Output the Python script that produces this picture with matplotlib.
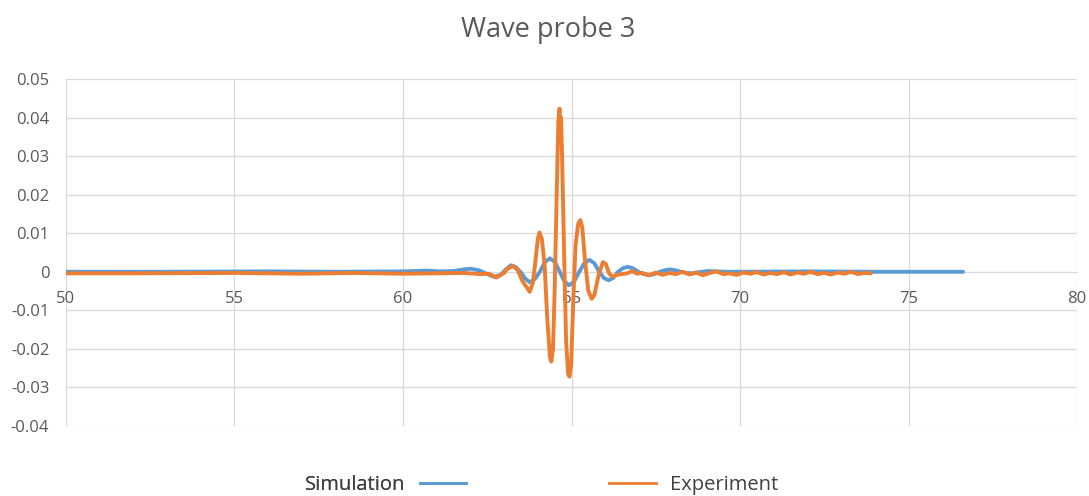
import matplotlib
matplotlib.use("Agg")
import matplotlib.pyplot as plt
from matplotlib.lines import Line2D

plt.rcParams['font.family'] = ['Open Sans', 'DejaVu Sans']

title = "Wave probe 3"
series_names = ["Simulation", "Experiment"]
x_ticks = [50, 55, 60, 65, 70, 75, 80]
y_ticks = [-0.04, -0.03, -0.02, -0.01, 0, 0.01, 0.02, 0.03, 0.04, 0.05]
y_tick_labels = ["-0.04", "-0.03", "-0.02", "-0.01", "0", "0.01", "0.02", "0.03", "0.04", "0.05"]

# Simulated surface elevation
sim_t = [50.0, 53.0, 56.0, 58.0, 60.0, 60.4, 60.7, 61.1, 61.5, 61.8, 62.0, 62.25,
         62.5, 62.7, 62.9, 63.05, 63.2, 63.35, 63.5, 63.63, 63.76, 63.91,
         64.06, 64.21, 64.36, 64.51, 64.65, 64.79, 64.93, 65.08, 65.23, 65.38,
         65.53, 65.68, 65.82, 65.96, 66.10, 66.24, 66.38, 66.52, 66.67, 66.82,
         66.98, 67.14, 67.30, 67.46, 67.62, 67.77, 67.92, 68.08, 68.24, 68.40,
         68.56, 68.72, 68.88, 69.05, 69.3, 69.6, 70.0, 72.0, 74.0, 76.62]
sim_eta = [0.0, 0.0, 0.0001, 0.0, 0.0001, 0.0002, 0.0003, 0.0001, 0.0002, 0.0006, 0.0008, 0.0004,
           -0.0006, -0.0013, -0.0008, 0.0006, 0.0017, 0.0012, -0.0002, -0.0018, -0.0027, -0.0019,
           0.0000, 0.0025, 0.0035, 0.0025, 0.0000, -0.0025, -0.0035, -0.0025, 0.0000, 0.0022,
           0.0031, 0.0022, 0.0000, -0.0016, -0.0022, -0.0016, 0.0000, 0.0009, 0.0013, 0.0009,
           0.0000, -0.0006, -0.0009, -0.0006, 0.0000, 0.0004, 0.0006, 0.0004, 0.0000, -0.0003,
           -0.0004, -0.0002, 0.0000, 0.0002, 0.0001, 0.0000, 0.0000, 0.0001, 0.0000, 0.0000]

# Measured surface elevation
exp_t = [50.0, 52.0, 55.0, 57.0, 58.5, 60.0, 61.0, 61.8, 62.3, 62.55, 62.77, 63.0,
         63.1, 63.26, 63.4, 63.55, 63.76, 63.85, 63.92, 64.0, 64.05, 64.12, 64.2,
         64.28, 64.36, 64.40, 64.45, 64.50, 64.56, 64.61, 64.645, 64.67, 64.69,
         64.72, 64.78, 64.84, 64.90, 64.94, 64.99, 65.05, 65.12, 65.20, 65.26,
         65.32, 65.40, 65.50, 65.60, 65.68, 65.80, 65.93, 66.02, 66.12, 66.23,
         66.35, 66.5, 66.65, 66.8, 66.95, 67.1, 67.3, 67.5, 67.7, 67.9, 68.1,
         68.3, 68.5, 68.7, 68.9, 69.1, 69.3, 69.5, 69.7, 69.9, 70.1, 70.3, 70.5,
         70.7, 70.9, 71.1, 71.3, 71.5, 71.7, 71.9, 72.1, 72.3, 72.5, 72.7, 72.9,
         73.1, 73.3, 73.5, 73.7, 73.88]
exp_eta = [-0.0004, -0.0004, -0.0003, -0.0005, -0.0003, -0.0005, -0.0004, -0.0003, -0.0006, -0.0005, -0.0015, -0.0003,
           0.0008, 0.0015, 0.0005, -0.0025, -0.0052, -0.0030, 0.0020, 0.0085, 0.0102, 0.0085, 0.0020,
           -0.0120, -0.0220, -0.0233, -0.0200, -0.0050, 0.0200, 0.0390, 0.0423, 0.0360, 0.0400,
           0.0300, 0.0050, -0.0180, -0.0265, -0.0272, -0.0240, -0.0080, 0.0070, 0.0125, 0.0134,
           0.0115, 0.0030, -0.0050, -0.0070, -0.0060, -0.0010, 0.0025, 0.0020, -0.0005, -0.0013,
           -0.0008, -0.0006, -0.0004, 0.0002, -0.0005, -0.0003, -0.0009, -0.0002, -0.0008, -0.0003, -0.0006,
           0.0000, -0.0007, -0.0002, -0.0009, -0.0003, 0.0001, -0.0006, -0.0004, -0.0008, -0.0002, -0.0005, -0.0001,
           -0.0007, -0.0003, -0.0006, -0.0001, -0.0007, -0.0002, -0.0005, 0.0000, -0.0006, -0.0003, -0.0007, -0.0002,
           -0.0005, 0.0000, -0.0006, -0.0003, -0.0004]

BLUE = "#5B9BD5"
ORANGE = "#ED7D31"
GRID = "#D9D9D9"
TEXT = "#595959"
LW = 2.8

fig = plt.figure(figsize=(10.89, 4.96), dpi=100)
ax = fig.add_axes([0.0606, 0.1411, 0.9284, 0.6996])

sim_line, = ax.plot(sim_t, sim_eta, color=BLUE, lw=LW, solid_joinstyle="round",
                    solid_capstyle="round", zorder=3)
exp_line, = ax.plot(exp_t, exp_eta, color=ORANGE, lw=LW, solid_joinstyle="round",
                    solid_capstyle="round", zorder=4)

ax.set_xlim(50, 80)
ax.set_ylim(-0.04, 0.05)
ax.set_xticks(x_ticks)
ax.set_yticks(y_ticks)
ax.set_yticklabels(y_tick_labels)
ax.grid(True, color=GRID, lw=0.9)
ax.set_axisbelow(True)

for side in ("top", "right", "left"):
    ax.spines[side].set_visible(False)
ax.spines["bottom"].set_position(("data", 0))
ax.spines["bottom"].set_color(GRID)
ax.tick_params(axis="both", length=0, labelsize=12, labelcolor=TEXT)
ax.tick_params(axis="x", pad=14)
ax.tick_params(axis="y", pad=12)

fig.text(0.503, 0.94, title, ha="center", va="center", fontsize=19.5, color=TEXT)

leg_kw = dict(loc="center", frameon=False, fontsize=14.5, handlelength=2.3,
              handletextpad=0.7, labelcolor="#404040")
leg1 = fig.legend(handles=[Line2D([], [], color=BLUE, lw=2.0)], labels=[series_names[0]],
                  bbox_to_anchor=(0.354, 0.022), markerfirst=False, **leg_kw)
leg2 = fig.legend(handles=[Line2D([], [], color=ORANGE, lw=2.0)], labels=[series_names[1]],
                  bbox_to_anchor=(0.637, 0.022), markerfirst=True, **leg_kw)
fig.add_artist(leg1)

fig.savefig("out.png", dpi=100)
